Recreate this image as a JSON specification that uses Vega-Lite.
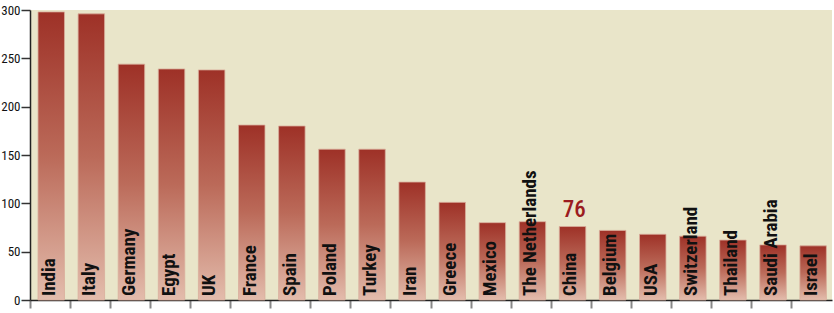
{
  "$schema": "https://vega.github.io/schema/vega-lite/v6.json",
  "width": 802,
  "height": 290,
  "autosize": {"type": "none"},
  "padding": {"left": 30, "right": 2, "top": 10, "bottom": 13},
  "background": "white",
  "config": {
    "view": {"fill": "#e9e5c9", "stroke": null},
    "font": "Roboto Condensed, Roboto, sans-serif"
  },
  "data": {
    "values": [
      {"country": "India", "value": 298},
      {"country": "Italy", "value": 296},
      {"country": "Germany", "value": 244},
      {"country": "Egypt", "value": 239},
      {"country": "UK", "value": 238},
      {"country": "France", "value": 181},
      {"country": "Spain", "value": 180},
      {"country": "Poland", "value": 156},
      {"country": "Turkey", "value": 156},
      {"country": "Iran", "value": 122},
      {"country": "Greece", "value": 101},
      {"country": "Mexico", "value": 80},
      {"country": "The Netherlands", "value": 81},
      {"country": "China", "value": 76},
      {"country": "Belgium", "value": 72},
      {"country": "USA", "value": 68},
      {"country": "Switzerland", "value": 66},
      {"country": "Thailand", "value": 62},
      {"country": "Saudi Arabia", "value": 57},
      {"country": "Israel", "value": 56}
    ]
  },
  "encoding": {
    "x": {
      "field": "country",
      "type": "nominal",
      "sort": null,
      "scale": {"paddingInner": 0, "paddingOuter": 0},
      "axis": {
        "title": null,
        "labels": false,
        "bandPosition": 0,
        "tickColor": "#888888",
        "tickSize": 8,
        "tickWidth": 2,
        "domainColor": "#222222",
        "domainWidth": 1.5
      }
    },
    "y": {
      "field": "value",
      "type": "quantitative",
      "scale": {"domain": [0, 300], "nice": false},
      "axis": {
        "title": null,
        "values": [0, 50, 100, 150, 200, 250, 300],
        "grid": false,
        "labelFontSize": 13,
        "labelColor": "#111111",
        "labelPadding": 1,
        "tickColor": "#333333",
        "tickSize": 9,
        "tickWidth": 1.5,
        "domainColor": "#222222",
        "domainWidth": 1.5
      }
    }
  },
  "layer": [
    {
      "mark": {
        "type": "bar",
        "width": {"band": 0.66},
        "xOffset": 1.2,
        "stroke": "#d9ad9c",
        "strokeWidth": 0.8,
        "color": {
          "gradient": "linear",
          "x1": 0, "y1": 0, "x2": 0, "y2": 1,
          "stops": [
            {"offset": 0, "color": "#9e3127"},
            {"offset": 0.5, "color": "#bb6a59"},
            {"offset": 1, "color": "#e3bcac"}
          ]
        }
      }
    },
    {
      "mark": {
        "type": "text",
        "angle": 270,
        "align": "left",
        "baseline": "middle",
        "dx": 4,
        "dy": -1,
        "fontSize": 19,
        "fontWeight": "bold",
        "color": "#111111"
      },
      "encoding": {
        "y": {"datum": 0},
        "text": {"field": "country"}
      }
    },
    {
      "transform": [{"filter": "datum.country === 'China'"}],
      "mark": {
        "type": "text",
        "baseline": "alphabetic",
        "dy": -10,
        "dx": 3,
        "fontSize": 23,
        "fontWeight": 500,
        "color": "#9b1b20"
      },
      "encoding": {
        "text": {"field": "value"}
      }
    }
  ]
}
